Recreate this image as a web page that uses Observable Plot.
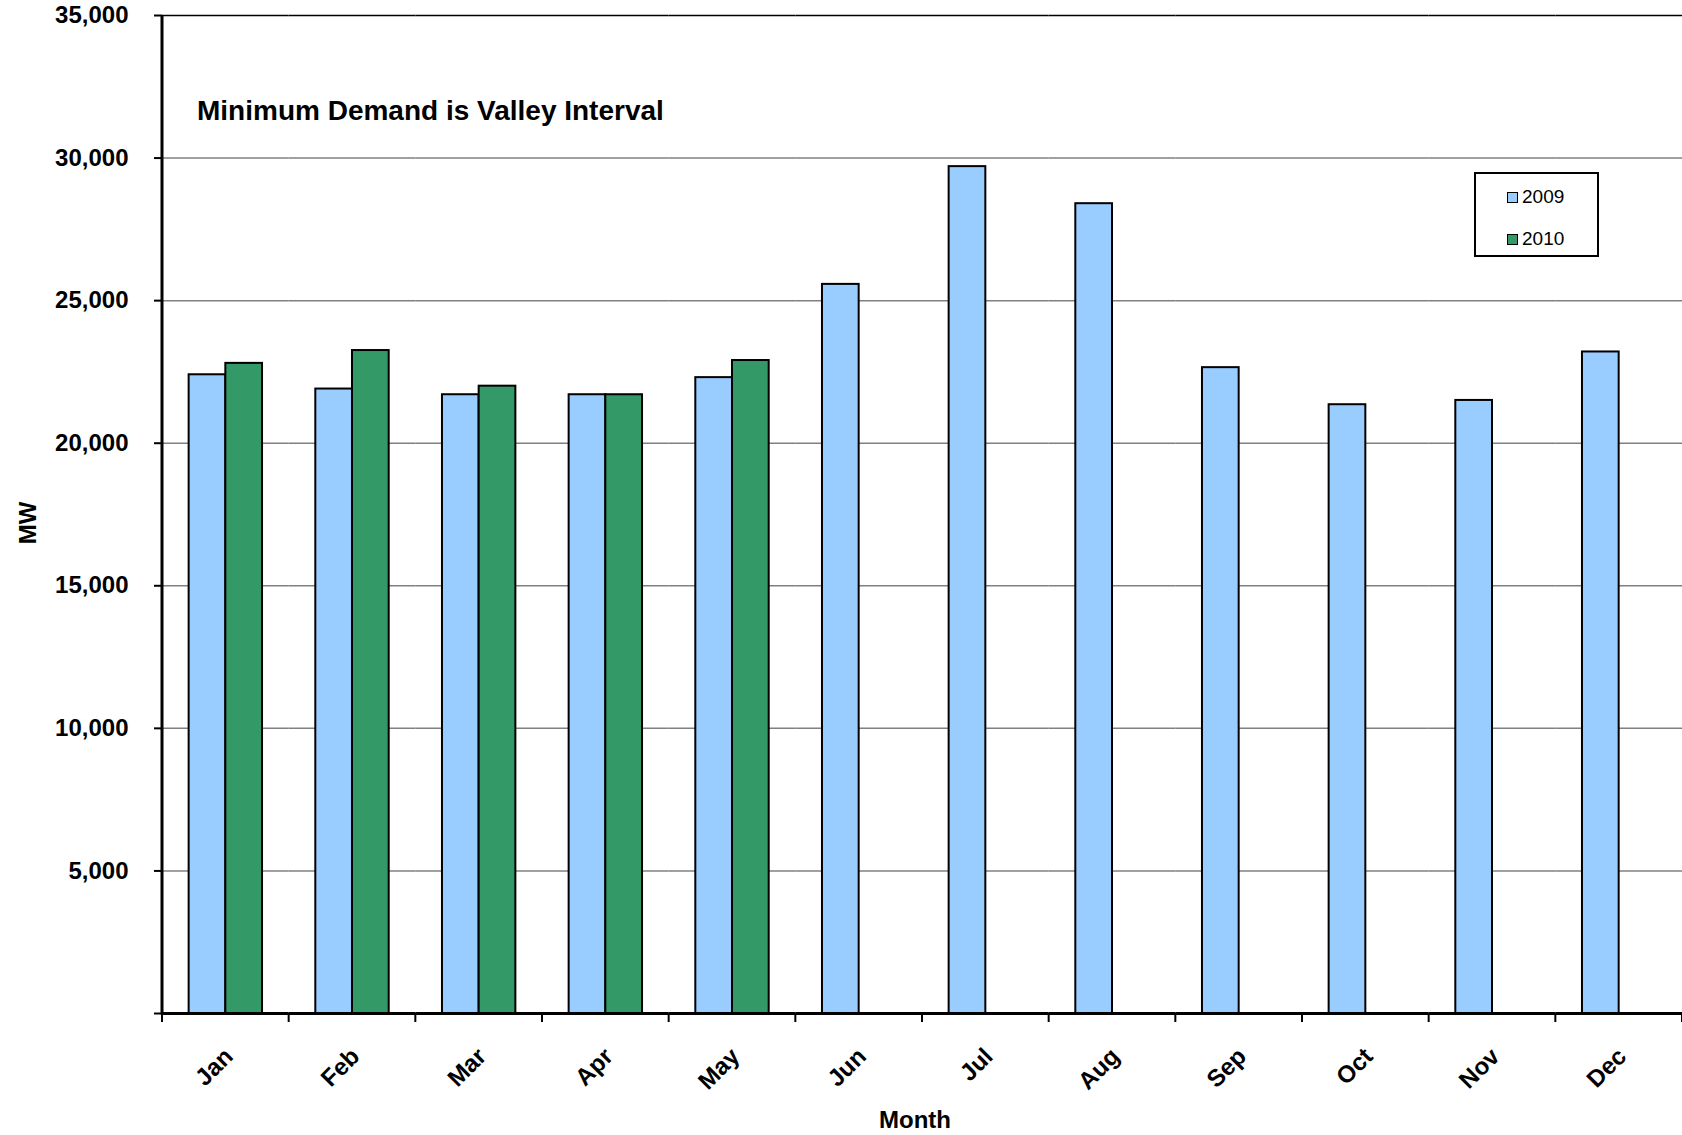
<!DOCTYPE html>
<html><head><meta charset="utf-8">
<script src="https://cdn.jsdelivr.net/npm/d3@7"></script>
<script src="https://cdn.jsdelivr.net/npm/@observablehq/plot@0.6"></script>
<style>
body{margin:0;background:#fff;font-family:"Liberation Sans",Arial,sans-serif;}
#wrap{position:relative;width:1682px;height:1135px;overflow:hidden;background:#fff;}
#legend{position:absolute;left:1474px;top:172px;width:121px;height:81px;border:2px solid #000;background:#fff;font-size:19px;color:#000;}
.item{position:absolute;left:31px;display:flex;align-items:center;line-height:22px;}
.sw{width:9px;height:9px;border:1.5px solid #000;margin-right:4px;}
</style></head><body><div id="wrap"></div>
<script>
const months = ["Jan","Feb","Mar","Apr","May","Jun","Jul","Aug","Sep","Oct","Nov","Dec"];
const years = ["2009","2010"];
const values2009 = [22400, 21900, 21700, 21700, 22300, 25570, 29700, 28400, 22650, 21350, 21500, 23200];
const values2010 = [22800, 23250, 22000, 21700, 22900, null, null, null, null, null, null, null];
const yTicks = [0, 5000, 10000, 15000, 20000, 25000, 30000, 35000];
const yearColors = ["#99CCFF", "#339966"];
const chartTitle = "Minimum Demand is Valley Interval";
const xTitle = "Month";
const yTitle = "MW";

const data = months.flatMap((m, i) => [
  {month: m, year: years[0], value: values2009[i]},
  {month: m, year: years[1], value: values2010[i]}
]).filter(d => d.value != null);

const fmt = d3.format(",");
const chart = Plot.plot({
  width: 1682, height: 1135,
  marginLeft: 162, marginRight: 0, marginTop: 15, marginBottom: 122,
  style: {fontFamily: "'Liberation Sans', Arial, sans-serif", background: "white", overflow: "visible", color: "#000"},
  fx: {domain: months, paddingInner: 0, paddingOuter: 0, round: false, label: null},
  x: {domain: years, paddingInner: 0, paddingOuter: 0.726, round: false, axis: null},
  y: {domain: [0, 35000], label: null},
  color: {domain: years, range: yearColors},
  marks: [
    Plot.gridY(yTicks.filter(t => t > 0 && t < 35000), {stroke: "#808080", strokeOpacity: 1, strokeWidth: 1.5}),
    Plot.ruleY([35000], {stroke: "#000", strokeWidth: 1.5}),
    Plot.barY(data, {fx: "month", x: "year", y: "value", fill: "year", stroke: "#000", strokeWidth: 2}),
    Plot.ruleY([0], {stroke: "#000", strokeWidth: 3}),
    Plot.axisY({ticks: yTicks, tickFormat: d => d === 0 ? "" : fmt(d), tickSize: 8, tickPadding: 26, fontSize: 24, fontWeight: "bold", strokeWidth: 2, label: null}),
    Plot.axisFx({anchor: "bottom", tickSize: 0, tickRotate: -45, tickPadding: 39, dx: 3, fontSize: 24, fontWeight: "bold", label: null})
  ]
});

const svg = d3.select(chart);
const fx = chart.scale("fx");
const y = chart.scale("y");
const y0 = y.apply(0), yTop = y.apply(35000);
const bw = fx.bandwidth;
const bounds = months.map(m => fx.apply(m)).concat([fx.apply(months[months.length - 1]) + bw]);
const g = svg.append("g");
bounds.forEach(b => {
  g.append("line").attr("x1", b).attr("x2", b).attr("y1", y0).attr("y2", y0 + 9).attr("stroke", "#000").attr("stroke-width", 2);
});
g.append("line").attr("x1", bounds[0]).attr("x2", bounds[0]).attr("y1", yTop).attr("y2", y0 + 1.5).attr("stroke", "#000").attr("stroke-width", 3);

svg.append("text").text(chartTitle).attr("x", 197).attr("y", 120).attr("font-size", 28).attr("font-weight", "bold").attr("text-anchor", "start").attr("fill", "#000");
svg.append("text").text(xTitle).attr("x", 915).attr("y", 1128).attr("font-size", 24).attr("font-weight", "bold").attr("text-anchor", "middle").attr("fill", "#000");
svg.append("text").text(yTitle).attr("transform", "translate(36,523) rotate(-90)").attr("font-size", 24).attr("font-weight", "bold").attr("text-anchor", "middle").attr("fill", "#000");

const wrap = document.getElementById("wrap");
wrap.appendChild(chart);
const legend = document.createElement("div");
legend.id = "legend";
years.forEach((yr, i) => {
  const it = document.createElement("div");
  it.className = "item";
  it.style.top = (i === 0 ? 12 : 54) + "px";
  const sw = document.createElement("div");
  sw.className = "sw";
  sw.style.background = yearColors[i];
  const t = document.createElement("span");
  t.textContent = yr;
  it.appendChild(sw); it.appendChild(t);
  legend.appendChild(it);
});
wrap.appendChild(legend);
</script></body></html>
